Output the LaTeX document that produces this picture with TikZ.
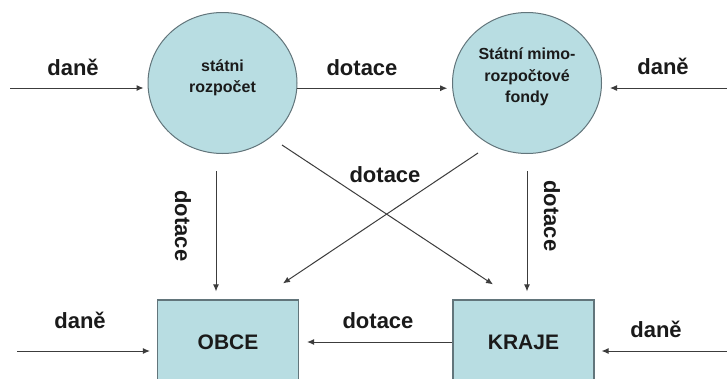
\documentclass[tikz,border=0pt]{standalone}
\usepackage{fontspec}
\setmainfont{Liberation Sans}
\usetikzlibrary{arrows.meta,shapes.geometric}
\definecolor{fillblue}{HTML}{B8DDE2}
\definecolor{edgegray}{HTML}{62757B}
\definecolor{linegray}{HTML}{3C3C3C}
\definecolor{txt}{HTML}{1A1A1A}
\tikzset{
  fund/.style={ellipse, draw=edgegray, line width=1pt, fill=fillblue, inner sep=0pt,
               minimum width=149pt, minimum height=141pt},
  level/.style={rectangle, draw=edgegray, line width=1.2pt, fill=fillblue, inner sep=0pt,
               minimum width=141pt, minimum height=84pt, font=\fontsize{21}{24}\selectfont\bfseries, text=txt},
  intext/.style={align=center, font=\fontsize{16}{21.5}\selectfont\bfseries, text=txt},
  flow/.style={draw=linegray, line width=1pt, -{Latex[length=7pt,width=6pt]}},
  tag/.style={font=\fontsize{22}{26}\selectfont\bfseries, text=txt, inner sep=0pt}
}
\begin{document}
\begin{tikzpicture}[x=1pt,y=-1pt]
\clip (0,0) rectangle (727,378);
\fill[white] (0,0) rectangle (727,378);

\node[fund, label={[intext, yshift=5pt]center:{státni\\rozpočet}}] (c1) at (222.5,83) {};
\node[fund, label={[intext, yshift=6pt]center:{Státní mimo-\\rozpočtové\\fondy}}] (c2) at (527,83) {};
\node[level] (obce) at (228,342) {OBCE};
\node[level] (kraje) at (523.5,342) {KRAJE};

\coordinate (inTL) at (10,88);
\coordinate (inTR) at (727,88);
\coordinate (inBL) at (17,351);
\coordinate (inBR) at (727,351);

% top row
\draw[flow, shorten >=4pt] (inTL) -- (inTL -| c1.west);
\draw[flow, shorten >=5pt] (c1.-4) -- (c2.184);
\draw[flow, shorten >=8pt] (inTR) -- (inTR -| c2.east);

% verticals
\draw[flow] ([shift={(-6.5,17)}]c1.south) -- ([shift={(-12,-8)}]obce.north);
\draw[flow] ([shift={(0,17)}]c2.south) -- ([shift={(3.5,-8)}]kraje.north);

% diagonals
\draw[flow] ([shift={(59.5,62)}]c1.center) -- ([shift={(-30.5,-15)}]kraje.north);
\draw[flow] ([shift={(-49,70)}]c2.center) -- ([shift={(55,-16)}]obce.north);

% bottom row
\draw[flow, shorten >=7pt] (inBL) -- (inBL -| obce.west);
\draw[flow, shorten >=8pt] (kraje.west) -- (obce.east);
\draw[flow, shorten >=7pt] (inBR) -- (inBR -| kraje.east);

% labels
\node[tag, anchor=base] (l1) at (73,75) {daně};
\node[tag, anchor=base] (l2) at (362,75) {dotace};
\node[tag, anchor=base] (l3) at (663,74) {daně};
\node[tag, rotate=-90] (l4) at (183,226) {dotace};
\node[tag, rotate=-90] (l5) at (552,216) {dotace};
\node[tag, anchor=base] (l6) at (385,182) {dotace};
\node[tag, anchor=base] (l7) at (378,328) {dotace};
\node[tag, anchor=base] (l8) at (80,328) {daně};
\node[tag, anchor=base] (l9) at (656,337) {daně};
\end{tikzpicture}
\end{document}
